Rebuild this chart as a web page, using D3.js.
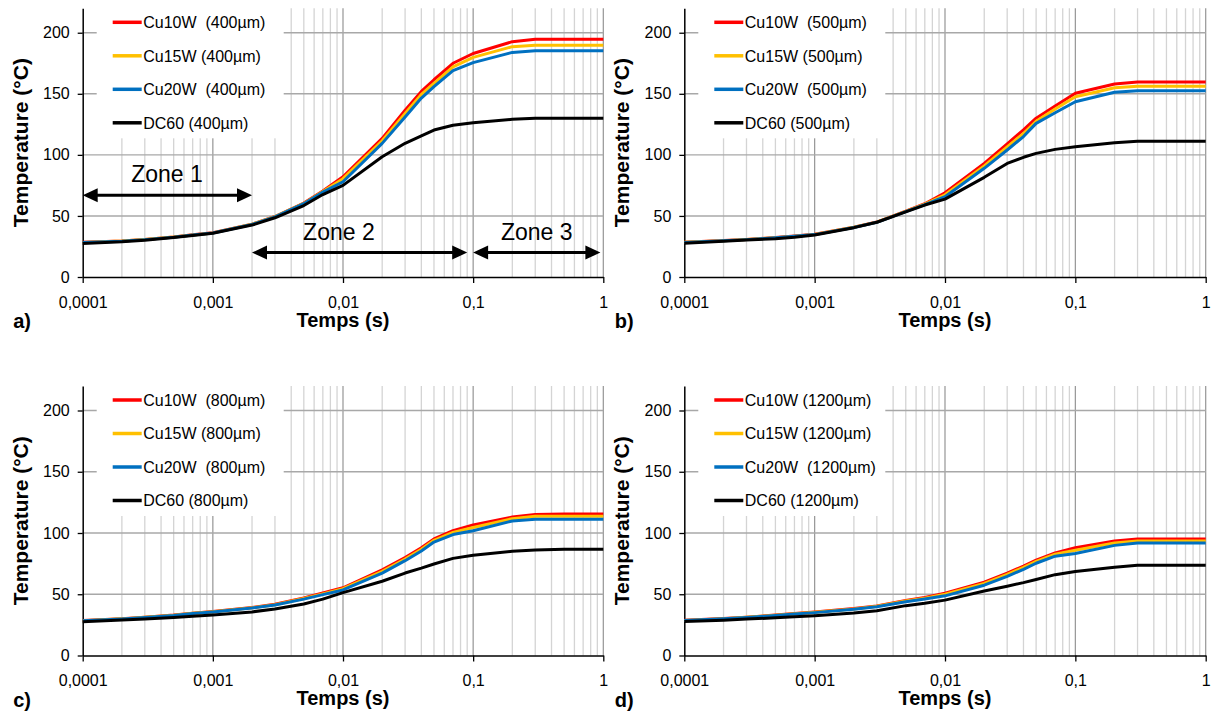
<!DOCTYPE html>
<html><head><meta charset="utf-8">
<script src="https://cdn.jsdelivr.net/npm/d3@7"></script>
<style>
body{margin:0;background:#fff}
svg{display:block}
text{font-family:"Liberation Sans",Arial,sans-serif;fill:#000}
</style>
</head><body>
<svg id="chart" width="1212" height="717"></svg>
<script>
// ---------- data ----------
const times = [0.0001, 0.0002, 0.0003, 0.0005, 0.0007, 0.001, 0.002, 0.003, 0.005, 0.007,
               0.01, 0.02, 0.03, 0.04, 0.05, 0.07, 0.1, 0.2, 0.3, 0.5, 1];

const cu10w_400 = [28.5, 29.5, 30.8, 32.8, 34.5, 36.2, 43.3, 49.5, 60.5, 70.5, 82, 113.5, 136.5, 152, 161.5, 175, 183, 192.7, 194.6, 194.6, 194.6];
const cu15w_400 = [28.3, 29.4, 30.7, 32.7, 34.4, 36.1, 43.2, 49.4, 60.2, 70, 80.5, 111.5, 134, 149.5, 158.5, 172, 179.8, 188.6, 189.8, 189.8, 189.8];
const cu20w_400 = [28.2, 29.3, 30.6, 32.6, 34.3, 36, 43, 49.2, 60, 69.5, 78, 109.4, 131, 146.5, 155.8, 168.9, 175.5, 183.9, 185.2, 185.2, 185.2];
const dc60_400  = [27.5, 28.8, 30, 32.3, 34, 35.8, 42.5, 48.5, 58.5, 67.5, 75, 98.5, 109.5, 115.5, 120.3, 124.2, 126.3, 129.1, 129.9, 129.9, 129.9];

const cu10w_500 = [28.5, 29.8, 30.8, 32.3, 33.5, 35, 40.8, 45, 54, 60, 69, 93, 109, 120.5, 130, 140, 150.4, 158, 159.6, 159.6, 159.6];
const cu15w_500 = [28.4, 29.7, 30.7, 32.2, 33.4, 34.8, 40.7, 44.9, 53.8, 59.7, 67.3, 91, 106.5, 117.5, 127.5, 137.5, 147.6, 155, 156.1, 156.1, 156.1];
const cu20w_500 = [28.3, 29.6, 30.6, 32.1, 33.3, 34.7, 40.6, 44.8, 53.5, 59.3, 65.7, 89, 104, 115, 125.8, 134.5, 143.5, 151.2, 152.5, 152.5, 152.5];
const dc60_500  = [27.6, 29.3, 30.3, 31.3, 32.5, 34.4, 40.4, 44.8, 53.3, 58.9, 63.8, 81.6, 93, 98, 101.2, 104.5, 106.7, 110, 111.1, 111.1, 111.1];

const cu10w_800 = [28.5, 30, 31.3, 33, 34.5, 36, 39.2, 41.8, 47, 51, 55.3, 70, 80, 88, 95.2, 101.9, 106.6, 113, 115.2, 115.5, 115.5];
const cu15w_800 = [28.4, 29.9, 31.2, 32.9, 34.4, 35.8, 39, 41.5, 46.5, 50.3, 54.5, 68.7, 78.8, 86.8, 94, 100.4, 104.5, 111.7, 113.6, 113.6, 113.6];
const cu20w_800 = [28.3, 29.8, 31, 32.7, 34.2, 35.6, 38.7, 41.2, 46, 49.7, 53.5, 67.3, 77.4, 85.3, 92.6, 98.7, 101.9, 109.8, 111.2, 111.3, 111.3];
const dc60_800  = [27.6, 28.9, 29.8, 31, 32, 33, 35.6, 38, 42, 46, 51.3, 60.6, 67.3, 71.3, 74.7, 79.3, 81.9, 85.1, 86.2, 86.7, 86.7];

const cu10w_1200 = [28.7, 30.2, 31.3, 33, 34.3, 35.5, 38.3, 40.5, 45, 47.3, 50.8, 59.8, 67.3, 73, 77.9, 83.8, 88, 93.4, 95.2, 95.2, 95.2];
const cu15w_1200 = [28.6, 30.1, 31.2, 32.9, 34.1, 35.3, 38, 40.2, 44.6, 46.8, 50, 58.8, 66.2, 72, 76.8, 82.7, 85.9, 91.8, 93.4, 93.4, 93.4];
const cu20w_1200 = [28.5, 30, 31, 32.7, 33.9, 35, 37.7, 39.8, 43.9, 46.2, 48.7, 57.4, 64.6, 70.3, 75.3, 81.1, 83.2, 89.9, 91.8, 91.8, 91.8];
const dc60_1200  = [27.8, 28.8, 29.7, 30.8, 31.6, 32.4, 34.6, 36.5, 40.7, 42.6, 45.2, 52.7, 56.6, 59.5, 62, 66, 68.6, 72.1, 73.7, 73.7, 73.7];

const legend_400  = ["Cu10W  (400µm)", "Cu15W (400µm)", "Cu20W  (400µm)", "DC60 (400µm)"];
const legend_500  = ["Cu10W  (500µm)", "Cu15W (500µm)", "Cu20W  (500µm)", "DC60 (500µm)"];
const legend_800  = ["Cu10W  (800µm)", "Cu15W (800µm)", "Cu20W  (800µm)", "DC60 (800µm)"];
const legend_1200 = ["Cu10W (1200µm)", "Cu15W (1200µm)", "Cu20W  (1200µm)", "DC60 (1200µm)"];

const seriesColors = ["#FF0000", "#FFC000", "#0070C0", "#000000"];
const yTicks = [0, 50, 100, 150, 200];
const xTickValues = [0.0001, 0.001, 0.01, 0.1, 1];
const xTickLabels = ["0,0001", "0,001", "0,01", "0,1", "1"];
const panelLetters = ["a)", "b)", "c)", "d)"];
const yTitle = "Temperature (°C)";
const xTitle = "Temps (s)";

// zone annotations (panel a)
const zoneLabels = ["Zone 1", "Zone 2", "Zone 3"];
const zoneStart  = [0.0001, 0.002, 0.1];
const zoneEnd    = [0.002, 0.09, 0.95];
const zoneLevel  = [67, 20, 20];
const zoneTextT  = [0.000444, 0.0093, 0.308];
const zoneTextV  = [78, 30.3, 30.3];

// ---------- layout ----------
const panels = [
  {vals: [cu10w_400, cu15w_400, cu20w_400, dc60_400], legend: legend_400, xr: [82.7, 603.3], yr: [277, 8.3], zones: true},
  {vals: [cu10w_500, cu15w_500, cu20w_500, dc60_500], legend: legend_500, xr: [684.3, 1205.7], yr: [277, 8.3]},
  {vals: [cu10w_800, cu15w_800, cu20w_800, dc60_800], legend: legend_800, xr: [82.7, 603.3], yr: [655.5, 386]},
  {vals: [cu10w_1200, cu15w_1200, cu20w_1200, dc60_1200], legend: legend_1200, xr: [684.3, 1205.7], yr: [655.5, 386]}
];

const svg = d3.select("#chart");

const minorVals = [];
for (let e = -4; e < 0; e++) for (let m = 2; m <= 9; m++) minorVals.push(m * Math.pow(10, e));

panels.forEach((p, pi) => {
  const x = d3.scaleLog().domain([0.0001, 1]).range(p.xr);
  const y = d3.scaleLinear().domain([0, 220]).range(p.yr);
  const g = svg.append("g");
  const top = y(220), bot = y(0), left = x(0.0001), right = x(1);

  // minor vertical grid
  g.selectAll(".minor").data(minorVals).enter().append("line")
    .attr("x1", d => x(d)).attr("x2", d => x(d))
    .attr("y1", bot).attr("y2", top)
    .attr("stroke", "#D4D4D4").attr("stroke-width", 1.3);
  // major vertical grid
  g.selectAll(".major").data(xTickValues.slice(1)).enter().append("line")
    .attr("x1", d => x(d)).attr("x2", d => x(d))
    .attr("y1", bot).attr("y2", top)
    .attr("stroke", "#959595").attr("stroke-width", 1.2);
  // horizontal grid
  g.selectAll(".hgrid").data(yTicks.slice(1)).enter().append("line")
    .attr("x1", left).attr("x2", right)
    .attr("y1", d => y(d)).attr("y2", d => y(d))
    .attr("stroke", "#A8A8A8").attr("stroke-width", 1.4);

  // legend background
  g.append("rect")
    .attr("x", left + 14).attr("y", top - 2)
    .attr("width", 187).attr("height", 132)
    .attr("fill", "#fff");

  // axes
  const ya = d3.axisLeft(y).tickValues(yTicks).tickSize(5).tickSizeOuter(0).tickPadding(8);
  const yg = g.append("g").attr("transform", `translate(${left},0)`).call(ya);
  const xa = d3.axisBottom(x).tickValues(xTickValues).tickFormat((d, i) => xTickLabels[i])
    .tickSize(6).tickSizeOuter(0).tickPadding(13.5);
  const xg = g.append("g").attr("transform", `translate(0,${bot})`).call(xa);
  [yg, xg].forEach(a => {
    a.selectAll("path.domain").attr("stroke", "#000").attr("stroke-width", 1.5);
    a.selectAll(".tick line").attr("stroke", "#000").attr("stroke-width", 1.3);
    a.selectAll(".tick text").attr("font-size", 16).attr("font-family", '"Liberation Sans",Arial,sans-serif').attr("fill", "#000");
  });

  // curves
  const line = d3.line().x(d => x(d[0])).y(d => y(d[1]));
  p.vals.forEach((vals, si) => {
    g.append("path")
      .datum(times.map((t, i) => [t, vals[i]]))
      .attr("d", line)
      .attr("fill", "none")
      .attr("stroke", seriesColors[si])
      .attr("stroke-width", 3)
      .attr("stroke-linejoin", "round");
  });

  // legend
  p.legend.forEach((lab, si) => {
    const ry = top + 14 + si * 33.5;
    g.append("line").attr("x1", left + 30).attr("x2", left + 59)
      .attr("y1", ry).attr("y2", ry)
      .attr("stroke", seriesColors[si]).attr("stroke-width", 3.5);
    g.append("text").attr("x", left + 60.5).attr("y", ry + 5.7)
      .attr("font-size", 16).attr("xml:space", "preserve")
      .style("white-space", "pre").text(lab);
  });

  // titles
  g.append("text").attr("transform", `translate(${left - 55},${(top + bot) / 2}) rotate(-90)`)
    .attr("text-anchor", "middle").attr("font-size", 21).attr("font-weight", "bold").text(yTitle);
  g.append("text").attr("x", (left + right) / 2).attr("y", bot + 49.5)
    .attr("text-anchor", "middle").attr("font-size", 20).attr("font-weight", "bold").text(xTitle);
  g.append("text").attr("x", left - 69.5).attr("y", bot + 51)
    .attr("font-size", 20).attr("font-weight", "bold").text(panelLetters[pi]);

  // zones
  if (p.zones) {
    const hl = 15, hw = 7;
    zoneLabels.forEach((lab, zi) => {
      const x1 = x(zoneStart[zi]), x2 = x(zoneEnd[zi]), yy = y(zoneLevel[zi]);
      g.append("line").attr("x1", x1 + hl - 1).attr("x2", x2 - hl + 1)
        .attr("y1", yy).attr("y2", yy).attr("stroke", "#000").attr("stroke-width", 3);
      g.append("path").attr("d", `M${x1},${yy}L${x1 + hl},${yy - hw}L${x1 + hl},${yy + hw}Z`).attr("fill", "#000");
      g.append("path").attr("d", `M${x2},${yy}L${x2 - hl},${yy - hw}L${x2 - hl},${yy + hw}Z`).attr("fill", "#000");
      g.append("text").attr("x", x(zoneTextT[zi])).attr("y", y(zoneTextV[zi]))
        .attr("text-anchor", "middle").attr("font-size", 23).text(lab);
    });
  }
});
</script>
</body></html>
